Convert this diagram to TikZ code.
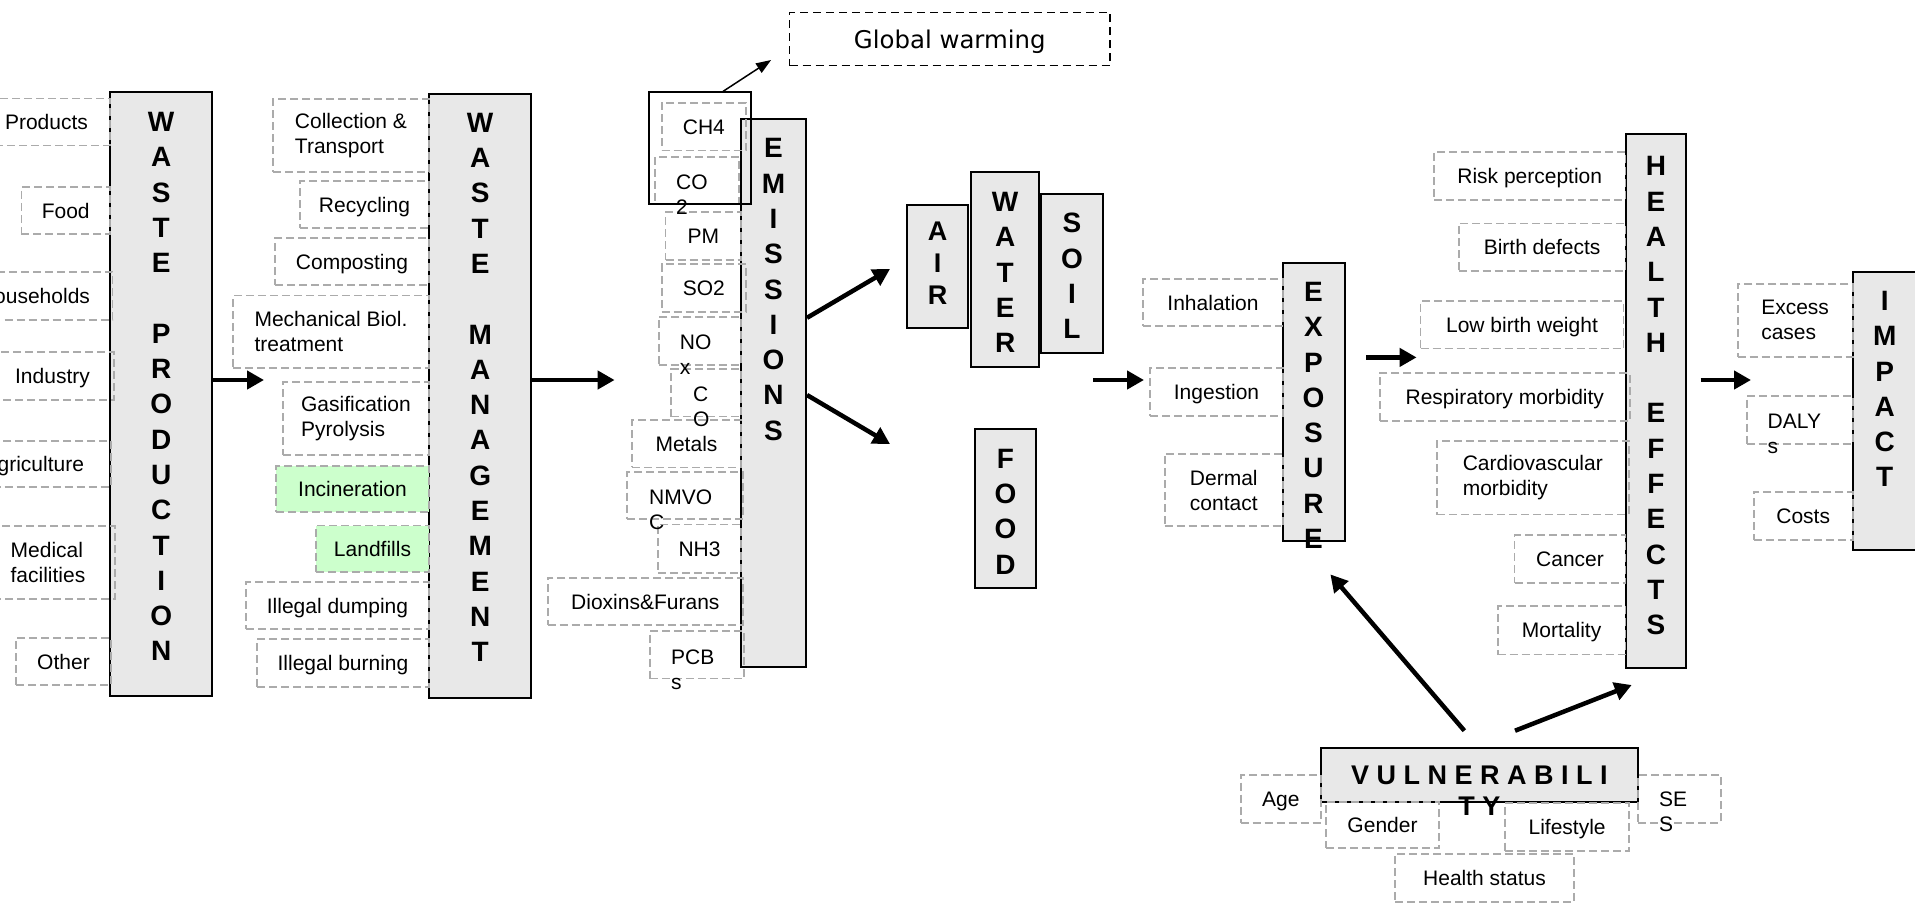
\documentclass[tikz,border=0pt]{standalone}
\usepackage{fontspec}
\setmainfont{Liberation Sans}
\newfontfamily\gwfont{DejaVu Sans}
\usetikzlibrary{arrows.meta}
\definecolor{boxgray}{HTML}{E8E8E8}
\definecolor{dashgray}{HTML}{ABABAB}
\definecolor{lgreen}{HTML}{CCFFCC}
\begin{document}
\begin{tikzpicture}[x=1pt, y=-1pt,
  bigbox/.style={draw, line width=2pt, fill=boxgray, inner sep=0pt},
  dbox/.style={draw=dashgray, line width=1.8pt, dash pattern=on 8pt off 4pt, inner sep=0pt, font=\fontsize{21}{25}\selectfont},
  one/.style={text height=15pt, text depth=0pt},
  two/.style={align=left},
  vlet/.style={font=\fontsize{28}{35.3}\selectfont\bfseries, align=center, inner sep=0pt, anchor=north},
  otext/.style={font=\fontsize{21}{25}\selectfont, align=left, inner sep=0pt, anchor=north west},
  bigarrow/.style={line width=4.5pt, -{Triangle[length=17pt,width=18pt]}},
  thinarrow/.style={line width=1.5pt, -{Triangle[length=15pt,width=11pt]}}]
\useasboundingbox (0,0) rectangle (1915,903);

% main boxes
\node[bigbox, minimum width=102, minimum height=604] (wp) at (161,394) {};
\node[bigbox, minimum width=102, minimum height=604] (wm) at (480,396) {};
\node[bigbox, minimum width=65, minimum height=548.7] (em) at (773.5,393) {};
\node[bigbox, minimum width=60.6, minimum height=123.5] (air) at (937.7,266.25) {};
\node[bigbox, minimum width=68.4, minimum height=195] (water) at (1005.2,269.5) {};
\node[bigbox, minimum width=62, minimum height=158.6] (soil) at (1072,273.3) {};
\node[bigbox, minimum width=61, minimum height=159.9] (food) at (1005.5,508.45) {};
\node[bigbox, minimum width=61.6, minimum height=277.8] (ex) at (1313.8,401.7) {};
\node[bigbox, minimum width=60.8, minimum height=533.7] (he) at (1655.9,401.15) {};
\node[bigbox, minimum width=64.4, minimum height=278.3] (im) at (1884.8,410.85) {};
\node[bigbox, minimum width=316.7, minimum height=53.4] (vu) at (1479.35,775) {};

% waste production sources
\node[dbox, one, minimum width=127, minimum height=47] (products) at (46.5,121.9) {Products};
\node[dbox, one, minimum width=88.6, minimum height=47] (foodsrc) at (65.7,210.5) {Food};
\node[dbox, one, minimum width=156, minimum height=48] (households) at (34.5,296) {Households};
\node[dbox, one, minimum width=123, minimum height=48] (industry) at (52.5,376) {Industry};
\node[dbox, one, minimum width=154.4, minimum height=46] (agri) at (33.8,464) {Agriculture};
\node[dbox, two, minimum width=134, minimum height=73] (medical) at (48,562.5) {Medical\\facilities};
\node[dbox, one, minimum width=95, minimum height=47] (other) at (63.5,661.5) {Other};

% waste management options
\node[dbox, two, minimum width=156, minimum height=73] (collect) at (351,135.5) {Collection \&\\Transport};
\node[dbox, one, minimum width=129, minimum height=47] (recyc) at (364.5,204.5) {Recycling};
\node[dbox, one, minimum width=154, minimum height=47] (compost) at (352,261.5) {Composting};
\node[dbox, two, minimum width=196, minimum height=72.5] (mbt) at (331,331.75) {Mechanical Biol.\\treatment};
\node[dbox, two, minimum width=146, minimum height=73] (gasif) at (356,418.5) {Gasification\\Pyrolysis};
\node[dbox, one, fill=lgreen, minimum width=153, minimum height=46] (incin) at (352.5,489) {Incineration};
\node[dbox, one, fill=lgreen, minimum width=113, minimum height=46.5] (landf) at (372.5,548.75) {Landfills};
\node[dbox, one, minimum width=183, minimum height=47] (idump) at (337.5,605.5) {Illegal dumping};
\node[dbox, one, minimum width=172, minimum height=48] (iburn) at (343,663) {Illegal burning};

% emissions
\node[dbox, one, minimum width=84.3, minimum height=47.7] (ch4) at (703.85,126.55) {CH4};
\node[dbox, minimum width=84.2, minimum height=47.4] (co2) at (696.9,180.7) {};
\node[dbox, one, minimum width=75.5, minimum height=48] (pm) at (703.25,236) {PM};
\node[dbox, one, minimum width=84.3, minimum height=47.6] (so2) at (703.85,287.8) {SO2};
\node[dbox, minimum width=82.4, minimum height=48] (nox) at (699.8,341) {};
\node[dbox, minimum width=70, minimum height=47.8] (co) at (706,392.6) {};
\node[dbox, one, minimum width=109, minimum height=47.8] (metals) at (686.5,443.5) {Metals};
\node[dbox, minimum width=116, minimum height=47.2] (nmvoc) at (685,495.4) {};
\node[dbox, one, minimum width=83, minimum height=48.2] (nh3) at (699.5,548.6) {NH3};
\node[dbox, one, minimum width=195.3, minimum height=47] (diox) at (645.35,601.5) {Dioxins\&Furans};
\node[dbox, minimum width=94.2, minimum height=47.7] (pcbs) at (696.9,654.65) {};
\node[otext] (co2t) at (676,174.5) {CO\\2};
\node[otext] (noxt) at (679.7,334.3) {NO\\x};
\node[otext] (cot) at (693,386.5) {C\\O};
\node[otext] (nmvoct) at (649,489.3) {NMVO\\C};
\node[otext] (pcbst) at (671,649.8) {PCB\\s};
\node[draw, line width=2pt, inner sep=0pt, minimum width=101.8, minimum height=112] (ghg) at (699.6,148.4) {};
\node[draw, line width=1.8pt, dash pattern=on 8pt off 5pt, inner sep=0pt, minimum width=320.5, minimum height=53.1, font=\gwfont\fontsize{24.4}{29}\selectfont, text height=18pt, text depth=0pt] (gw) at (949.75,39) {Global warming};

% exposure routes
\node[dbox, one, minimum width=140, minimum height=47] (inhal) at (1213,302.5) {Inhalation};
\node[dbox, one, minimum width=133, minimum height=47.6] (inges) at (1216.5,391.8) {Ingestion};
\node[dbox, two, minimum width=118.4, minimum height=72.5] (dermal) at (1223.8,490) {Dermal\\contact};

% health effects
\node[dbox, one, minimum width=191.5, minimum height=47.6] (risk) at (1529.75,175.8) {Risk perception};
\node[dbox, one, minimum width=166.8, minimum height=47.5] (birth) at (1542.1,247.25) {Birth defects};
\node[dbox, one, minimum width=203, minimum height=47.5] (lbw) at (1522,324.75) {Low birth weight};
\node[dbox, one, minimum width=249.6, minimum height=48.2] (resp) at (1504.8,396.9) {Respiratory morbidity};
\node[dbox, two, minimum width=191.6, minimum height=73.5] (cardio) at (1532.8,477.75) {Cardiovascular\\morbidity};
\node[dbox, one, minimum width=111, minimum height=48] (cancer) at (1570,559) {Cancer};
\node[dbox, one, minimum width=127.8, minimum height=48.5] (mort) at (1561.6,630.25) {Mortality};

% impact
\node[dbox, two, minimum width=115, minimum height=72.7] (excess) at (1795.1,320.35) {Excess\\cases};
\node[dbox, minimum width=105.9, minimum height=48.2] (dalys) at (1799.65,419.7) {};
\node[otext] (dalyst) at (1767.5,413.6) {DALY\\s};
\node[dbox, one, minimum width=98.8, minimum height=48] (costs) at (1803.2,516) {Costs};

% vulnerability
\node[dbox, one, minimum width=80.3, minimum height=47.7] (age) at (1280.85,798.85) {Age};
\node[dbox, one, minimum width=113, minimum height=46.6] (gender) at (1382.5,825) {Gender};
\node[dbox, one, minimum width=124.3, minimum height=47.7] (life) at (1567.15,826.85) {Lifestyle};
\node[dbox, minimum width=82.7, minimum height=47.7] (ses) at (1679.35,798.85) {};
\node[otext] (sest) at (1659,791.5) {SE\\S};
\node[dbox, one, minimum width=179, minimum height=47.7] (hstat) at (1484.5,877.85) {Health status};

% vertical titles
\node[vlet] (wpt) at (161.2,112) {W\\A\\S\\T\\E\\ \\P\\R\\O\\D\\U\\C\\T\\I\\O\\N};
\node[vlet] (wmt) at (480.2,112.8) {W\\A\\S\\T\\E\\ \\M\\A\\N\\A\\G\\E\\M\\E\\N\\T};
\node[vlet] (emt) at (773.5,138.4) {E\\M\\I\\S\\S\\I\\O\\N\\S};
\node[vlet, font=\fontsize{27}{32}\selectfont\bfseries] (airt) at (937.7,221.5) {A\\I\\R};
\node[vlet] (watert) at (1005.2,192) {W\\A\\T\\E\\R};
\node[vlet] (soilt) at (1072,213) {S\\O\\I\\L};
\node[vlet] (foodt) at (1005.5,448.7) {F\\O\\O\\D};
\node[vlet] (ext) at (1313.5,282) {E\\X\\P\\O\\S\\U\\R\\E};
\node[vlet] (het) at (1655.9,156.4) {H\\E\\A\\L\\T\\H\\ \\E\\F\\F\\E\\C\\T\\S};
\node[vlet] (imt) at (1884.7,291) {I\\M\\P\\A\\C\\T};
\node[vlet, font=\fontsize{27}{31.7}\selectfont\bfseries] (vut) at (1479.4,765.5) {V U L N E R A B I L I\\T Y};

% arrows
\coordinate (t1) at (264,380);
\coordinate (t2) at (614.6,380);
\coordinate (t3) at (890,269);
\coordinate (t4) at (890,444);
\coordinate (s5) at (1093,380);
\coordinate (t5) at (1144,380);
\coordinate (s6) at (1366,357.4);
\coordinate (t6) at (1416.6,357.4);
\coordinate (s7) at (1700.5,380);
\coordinate (t7) at (1751,380);
\draw[bigarrow] ([yshift=14pt]wp.east) -- (t1);
\draw[bigarrow] ([yshift=16pt]wm.east) -- (t2);
\draw[bigarrow] ([yshift=75.2pt]em.east) -- (t3);
\draw[bigarrow] ([yshift=-2pt]em.east) -- (t4);
\draw[bigarrow] (s5) -- (t5);
\draw[bigarrow] (s6) -- (t6);
\draw[bigarrow] (s7) -- (t7);
\draw[bigarrow] ([xshift=-15pt,yshift=16.6pt]vu.north) -- ([xshift=16.6pt,yshift=-32.8pt]ex.south);
\draw[bigarrow] ([xshift=35.7pt,yshift=16.6pt]vu.north) -- ([xshift=-24.2pt,yshift=-16pt]he.south);
\draw[thinarrow] ([xshift=23.4pt]ghg.north) -- ([xshift=-17.5pt,yshift=-21pt]gw.west);
\end{tikzpicture}
\end{document}
